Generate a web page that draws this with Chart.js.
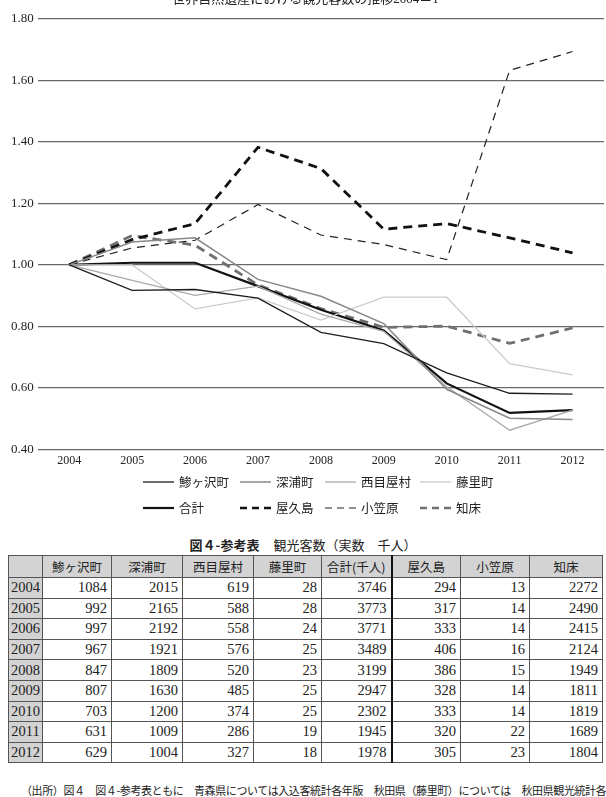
<!DOCTYPE html>
<html><head><meta charset="utf-8">
<script src="https://cdn.jsdelivr.net/npm/chart.js@4.4.0/dist/chart.umd.min.js"></script>
<style>
html,body{margin:0;padding:0;background:#fff;width:606px;height:797px;overflow:hidden;}
#wrap{position:absolute;left:0;top:-8px;width:606px;height:530px;}
#tt{position:absolute;top:535px;left:0;width:606px;text-align:center;font-size:13px;font-family:'Noto Sans CJK JP';color:#222;white-space:nowrap;}
#tt b{font-weight:bold;margin-right:14px;}
#tbl{position:absolute;left:8px;top:555px;border-collapse:collapse;table-layout:fixed;border:1.5px solid #333;}
#tbl td,#tbl th{border:1px solid #555;padding:0 4px;height:20.6px;box-sizing:border-box;}
#tbl th{background:#d3d3d3;font-family:'Noto Sans CJK JP';font-weight:normal;font-size:12.5px;color:#222;height:22px;text-align:center;}
#tbl td{font-family:'Liberation Serif';font-size:14.5px;color:#222;text-align:right;}
#tbl td.y{background:#d3d3d3;text-align:center;padding:0 2px;}
#tbl .sep{border-right:2px solid #111;}
#fn{position:absolute;top:782px;left:21px;font-family:'Noto Sans CJK JP';font-size:11px;letter-spacing:-0.4px;color:#222;white-space:nowrap;}
</style></head>
<body>
<div id="wrap"><canvas id="c" width="606" height="530"></canvas></div>
<div id="tt"><b>図４-参考表</b>観光客数（実数　千人）</div>
<table id="tbl"></table>
<div id="fn">（出所）図４　図４-参考表ともに　青森県については入込客統計各年版　秋田県（藤里町）については　秋田県観光統計各年版</div>
<script>
// ---- chart data (ratio to 2004) ----
const years = ['2004','2005','2006','2007','2008','2009','2010','2011','2012'];
const ajigasawa = [1.00, 0.917, 0.920, 0.892, 0.781, 0.744, 0.649, 0.583, 0.580];
const fukaura   = [1.00, 1.074, 1.088, 0.953, 0.898, 0.809, 0.596, 0.502, 0.498];
const nishimeya = [1.00, 0.950, 0.901, 0.931, 0.840, 0.784, 0.604, 0.463, 0.528];
const fujisato  = [1.00, 1.000, 0.857, 0.893, 0.821, 0.895, 0.895, 0.679, 0.643];
const total     = [1.00, 1.007, 1.007, 0.931, 0.854, 0.787, 0.615, 0.519, 0.528];
const yakushima = [1.00, 1.082, 1.134, 1.382, 1.313, 1.116, 1.134, 1.088, 1.039];
const ogasawara = [1.00, 1.055, 1.080, 1.196, 1.097, 1.066, 1.017, 1.632, 1.693];
const shiretoko = [1.00, 1.095, 1.064, 0.935, 0.858, 0.797, 0.801, 0.745, 0.795];
const yTickValues = [0.40, 0.60, 0.80, 1.00, 1.20, 1.40, 1.60, 1.80];

// ---- table data (actual, thousands) ----
const tableHeaders = ['鯵ヶ沢町','深浦町','西目屋村','藤里町','合計(千人)','屋久島','小笠原','知床'];
const tAjigasawa = [1084, 992, 997, 967, 847, 807, 703, 631, 629];
const tFukaura   = [2015, 2165, 2192, 1921, 1809, 1630, 1200, 1009, 1004];
const tNishimeya = [619, 588, 558, 576, 520, 485, 374, 286, 327];
const tFujisato  = [28, 28, 24, 25, 23, 25, 25, 19, 18];
const tTotal     = [3746, 3773, 3771, 3489, 3199, 2947, 2302, 1945, 1978];
const tYakushima = [294, 317, 333, 406, 386, 328, 333, 320, 305];
const tOgasawara = [13, 14, 14, 16, 15, 14, 14, 22, 23];
const tShiretoko = [2272, 2490, 2415, 2124, 1949, 1811, 1819, 1689, 1804];

// build table
(function(){
  const tbl = document.getElementById('tbl');
  const widths = [34,69,71,71,68,70,69,69,73];
  let cg = '<colgroup>' + widths.map(w=>'<col style="width:'+w+'px">').join('') + '</colgroup>';
  let h = '<tr><th></th>' + tableHeaders.map((t,i)=>'<th'+(i===4?' class="sep"':'')+'>'+t+'</th>').join('') + '</tr>';
  const cols = [tAjigasawa,tFukaura,tNishimeya,tFujisato,tTotal,tYakushima,tOgasawara,tShiretoko];
  years.forEach((y,r)=>{
    h += '<tr><td class="y">'+y+'</td>' + cols.map((c,i)=>'<td'+(i===4?' class="sep"':'')+'>'+c[r]+'</td>').join('') + '</tr>';
  });
  tbl.innerHTML = cg + h;
})();

const serif = "'Liberation Serif', 'Noto Sans CJK JP', serif";
const jp = "'Noto Sans CJK JP', sans-serif";

const ds = (label, data, color, width, dash) => ({
  label, data, borderColor: color, backgroundColor: color, borderWidth: width,
  borderDash: dash || [], pointRadius: 0, tension: 0, fill: false
});

const datasets = [
  ds('鯵ヶ沢町', ajigasawa, '#1e1e1e', 1.3),
  ds('深浦町', fukaura, '#888888', 1.5),
  ds('西目屋村', nishimeya, '#aaaaaa', 1.3),
  ds('藤里町', fujisato, '#cbcbcb', 1.3),
  ds('合計', total, '#111111', 2.2),
  ds('屋久島', yakushima, '#111111', 2.8, [9,6]),
  ds('小笠原', ogasawara, '#222222', 1.2, [8,6]),
  ds('知床', shiretoko, '#707070', 2.8, [9,6])
];

const legendPlugin = {
  id: 'customLegend',
  afterDraw(chart) {
    const ctx = chart.ctx;
    const colsX = [143, 240, 325, 420];
    const rowsY = [490, 516];
    const sets = chart.data.datasets;
    ctx.save();
    sets.forEach((d, i) => {
      const x = colsX[i % 4], y = rowsY[Math.floor(i / 4)];
      ctx.beginPath();
      ctx.strokeStyle = d.borderColor;
      ctx.lineWidth = Math.min(d.borderWidth, 2.4);
      ctx.setLineDash(d.borderDash && d.borderDash.length ? [7,5] : []);
      ctx.moveTo(x, y); ctx.lineTo(x + 31, y);
      ctx.stroke();
      ctx.setLineDash([]);
      ctx.fillStyle = '#222';
      ctx.font = '12.5px ' + jp;
      ctx.textBaseline = 'middle';
      ctx.textAlign = 'left';
      ctx.fillText(d.label, x + 36, y);
    });
    ctx.restore();
  }
};

new Chart(document.getElementById('c'), {
  type: 'line',
  data: { labels: years, datasets },
  options: {
    responsive: false,
    animation: false,
    layout: { padding: { left: 7, right: 2, top: 0, bottom: 50 } },
    plugins: {
      legend: { display: false },
      tooltip: { enabled: false },
      title: {
        display: true,
        text: '世界自然遺産における観光客数の推移2004＝1',
        font: { size: 13, family: serif, weight: 'normal' },
        color: '#222',
        padding: { top: 0, bottom: 11 }
      }
    },
    scales: {
      x: {
        offset: true,
        grid: { display: false, drawTicks: false },
        border: { display: false },
        ticks: { font: { size: 12, family: serif }, color: '#222', padding: 4 }
      },
      y: {
        min: 0.4, max: 1.8,
        afterBuildTicks: (s) => { s.ticks = yTickValues.map(v => ({ value: v })); },
        grid: { color: '#6a6a6a', lineWidth: 1.3, drawTicks: false },
        border: { display: false },
        ticks: { font: { size: 13, family: serif }, color: '#222', padding: 4,
                 callback: (v) => Number(v).toFixed(2) }
      }
    }
  },
  plugins: [legendPlugin]
});
</script>
</body></html>
